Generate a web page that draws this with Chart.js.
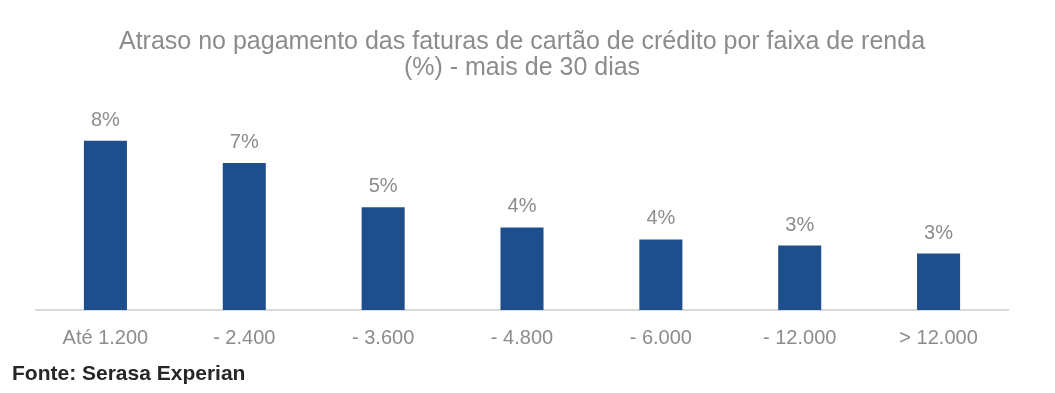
<!DOCTYPE html>
<html lang="pt-BR">
<head>
<meta charset="utf-8">
<script src="https://cdn.jsdelivr.net/npm/chart.js@4.4.1/dist/chart.umd.min.js"></script>
<style>
  html, body { margin: 0; padding: 0; background: #fff; }
  #wrap { position: relative; width: 1055px; height: 393px; }
  #fonte {
    position: absolute; left: 12px; top: 361px;
    font: bold 21px "Liberation Sans", Arial, sans-serif;
    color: #262626;
  }
</style>
</head>
<body>
<div id="wrap">
  <canvas id="grafico" width="1055" height="393"></canvas>
  <div id="fonte">Fonte: Serasa Experian</div>
</div>
<script>
// faixas de renda (R$)
const faixas = ['Até 1.200', '- 2.400', '- 3.600', '- 4.800', '- 6.000', '- 12.000', '> 12.000'];
// % de atraso > 30 dias
const atraso = [8.4, 7.3, 5.1, 4.1, 3.5, 3.2, 2.8];
const titulo = ['Atraso no pagamento das faturas de cartão de crédito por faixa de renda', '(%) - mais de 30 dias'];

const cinza = '#8c8c8c';
const azul = '#1f4e8c';
const fonte = '"Liberation Sans", Arial, sans-serif';

// rótulos em cima das barras
const rotulos = {
    id: 'rotulos',
    afterDatasetsDraw(chart) {
        const ctx = chart.ctx;
        const meta = chart.getDatasetMeta(0);
        ctx.save();
        ctx.font = '20px ' + fonte;
        ctx.fillStyle = cinza;
        ctx.textAlign = 'center';
        ctx.textBaseline = 'alphabetic';
        meta.data.forEach((barra, i) => {
            ctx.fillText(Math.round(atraso[i]) + '%', barra.x, barra.y - 15);
        });
        ctx.restore();
    }
};

const chart = new Chart(document.getElementById('grafico'), {
    type: 'bar',
    data: {
        labels: faixas,
        datasets: [{
            data: atraso,
            backgroundColor: azul,
            categoryPercentage: 1,
            barPercentage: 0.31
        }]
    },
    options: {
        responsive: false,
        animation: false,
        layout: { padding: { left: 36, right: 47, top: 0, bottom: 27 } },
        plugins: {
            legend: { display: false },
            tooltip: { enabled: false },
            title: {
                display: true,
                text: titulo,
                color: cinza,
                font: { family: fonte, size: 25, weight: 'normal', lineHeight: 1.05 },
                padding: { top: 29, bottom: 27 }
            }
        },
        scales: {
            x: {
                grid: { display: false, drawTicks: false },
                border: { display: true, color: '#d9d9d9', width: 2 },
                ticks: { color: cinza, font: { family: fonte, size: 20 }, padding: 16 }
            },
            y: {
                display: false,
                min: 0,
                max: 10
            }
        }
    },
    plugins: [rotulos]
});
</script>
</body>
</html>
